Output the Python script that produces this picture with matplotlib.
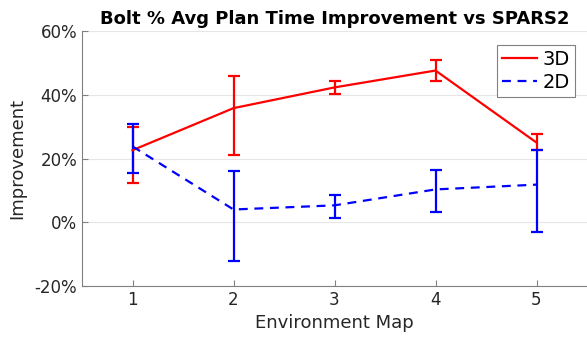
import numpy as np
import matplotlib
matplotlib.use("Agg")
import matplotlib.pyplot as plt
from matplotlib.lines import Line2D
from matplotlib.ticker import FuncFormatter

# Data (percent improvement)
maps = [1, 2, 3, 4, 5]
mean_3d = [22.6, 35.8, 42.3, 47.6, 25.0]
low_3d = [12.2, 21.2, 40.1, 44.2, 22.6]
high_3d = [29.9, 45.8, 44.3, 50.8, 27.6]
mean_2d = [23.8, 4.0, 5.3, 10.3, 11.8]
low_2d = [15.5, -12.2, 1.2, 3.2, -3.0]
high_2d = [30.9, 16.0, 8.5, 16.3, 22.6]

fig = plt.figure(figsize=(5.87, 3.39), dpi=100)
ax = fig.add_axes([82/587, 1-286/339, 505/587, 255/339])

txt = '#262626'
dash = (0, (4, 3))

def yerr(m, lo, hi):
    m = np.array(m)
    return [m-np.array(lo), np.array(hi)-m]

ax.errorbar(maps, mean_3d, yerr=yerr(mean_3d, low_3d, high_3d), color='#ff0000',
            lw=1.6, elinewidth=1.6, capsize=4, capthick=1.6)
ax.errorbar(maps, mean_2d, yerr=yerr(mean_2d, low_2d, high_2d), color='#0000ff',
            lw=1.6, ls=dash, elinewidth=1.6, capsize=4, capthick=1.6)

ax.set_xlim(0.5, 5.5)
ax.set_ylim(-20, 60)
ax.set_xticks(maps)
ax.set_yticks([-20, 0, 20, 40, 60])
ax.yaxis.set_major_formatter(FuncFormatter(lambda v, p: f'{v:.0f}%'))
ax.grid(axis='y', color='#e6e6e6', lw=0.8)
ax.set_axisbelow(True)
for s in ['top', 'right']:
    ax.spines[s].set_visible(False)
for s in ['left', 'bottom']:
    ax.spines[s].set_color('#808080')
ax.tick_params(direction='in', length=4, color='#808080', labelcolor=txt, labelsize=12)
ax.set_xlabel('Environment Map', color=txt, fontsize=13)
ax.set_ylabel('Improvement', color=txt, fontsize=13, labelpad=6)
ax.set_title('Bolt % Avg Plan Time Improvement vs SPARS2', fontsize=13, fontweight='bold', pad=5)

handles = [Line2D([], [], color='#ff0000', lw=1.6),
           Line2D([], [], color='#0000ff', lw=1.6, ls=dash)]
leg = ax.legend(handles, ['3D', '2D'], loc='upper right', bbox_to_anchor=(0.976, 0.945),
                fontsize=14, fancybox=False, edgecolor='#808080', handlelength=1.8,
                handletextpad=0.3, borderpad=0.25, borderaxespad=0, labelspacing=0.2,
                framealpha=1)
leg.get_frame().set_linewidth(0.8)

fig.savefig('out.png', dpi=100)
